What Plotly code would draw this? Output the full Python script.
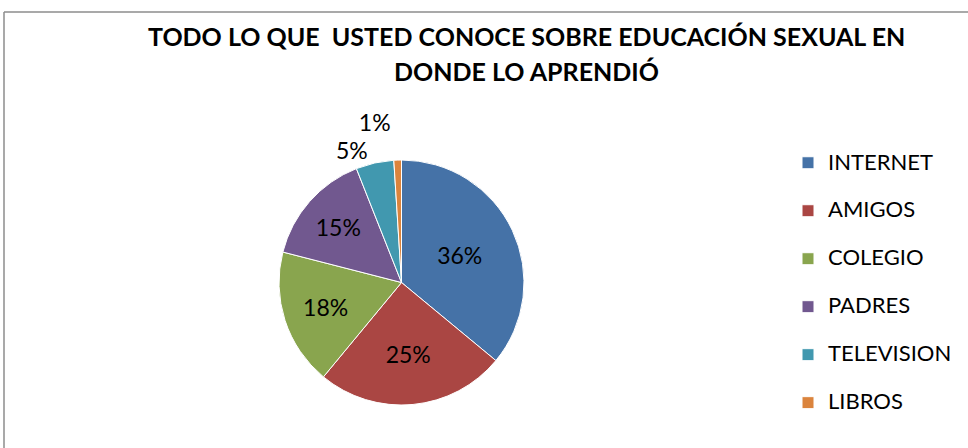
import plotly.graph_objects as go

categories = ["INTERNET", "AMIGOS", "COLEGIO", "PADRES", "TELEVISION", "LIBROS"]
values = [36, 25, 18, 15, 5, 1]
colors = ["#4572A7", "#AA4643", "#89A54E", "#71588F", "#4198AF", "#DB843D"]
title_lines = ["TODO LO QUE  USTED CONOCE SOBRE EDUCACIÓN SEXUAL EN", "DONDE LO APRENDIÓ"]

W, H = 968, 448
cx, cy, r = 401.5, 282.5, 122.5

legend_labels = ["<span style='font-size:22px'>" + c + "</span><br> " for c in categories]

fig = go.Figure(go.Pie(
    labels=legend_labels,
    values=values,
    sort=False,
    direction="clockwise",
    rotation=0,
    marker=dict(colors=colors, line=dict(color="white", width=1)),
    texttemplate="<span style='color:#000000'>%{value}%</span>",
    textposition=["inside", "inside", "inside", "inside", "outside", "outside"],
    insidetextorientation="horizontal",
    insidetextfont=dict(family="Lato", size=23, color="#000000"),
    outsidetextfont=dict(family="Lato", size=23, color="#ffffff"),
    domain=dict(x=[(cx - r) / W, (cx + r) / W], y=[1 - (cy + r) / H, 1 - (cy - r) / H]),
    hoverinfo="label+percent",
))

annotations = []
for t, yc in zip(title_lines, [36, 71]):
    annotations.append(dict(
        text="<b>" + t + "</b>", x=526 / W, y=1 - yc / H, xref="paper", yref="paper",
        xanchor="center", yanchor="middle", showarrow=False,
        font=dict(family="Lato", size=25, color="#000000"),
    ))

fig.update_layout(
    width=W, height=H,
    margin=dict(l=0, r=0, t=0, b=0, autoexpand=False),
    paper_bgcolor="white",
    plot_bgcolor="white",
    annotations=annotations,
    showlegend=True,
    legend=dict(
        x=788 / W, y=1 - 145 / H, xanchor="left", yanchor="top",
        valign="top",
        font=dict(family="Lato", size=17.3, color="#000000"),
        itemclick=False,
    ),
    shapes=[
        dict(type="line", xref="paper", yref="paper", x0=4 / W, x1=1.01, y0=1 - 12 / H, y1=1 - 12 / H,
             line=dict(color="#8c8c8c", width=1.5)),
        dict(type="line", xref="paper", yref="paper", x0=4 / W, x1=4 / W, y0=1 - 12 / H, y1=-0.01,
             line=dict(color="#8c8c8c", width=1.5)),
    ],
)

fig.write_html("out.html", config={"displayModeBar": False},
               post_script="document.body.style.margin='0';document.body.style.overflow='hidden';")
